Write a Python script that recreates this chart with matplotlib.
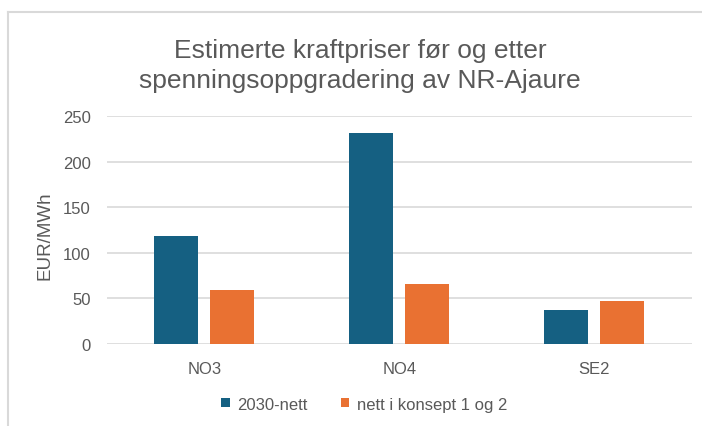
import numpy as np
import matplotlib.pyplot as plt
from matplotlib.lines import Line2D

# ------------------------------ DATA -----------------------------------------
areas = ['NO3', 'NO4', 'SE2']
price_2030 = [118, 231.5, 37.5]        # EUR/MWh, 2030-nett
price_konsept = [59, 66, 47]           # EUR/MWh, nett i konsept 1 og 2
series_labels = ['2030-nett', 'nett i konsept 1 og 2']

# ------------------------------ STYLE ----------------------------------------
plt.rcParams['font.family'] = ['Liberation Sans', 'DejaVu Sans']
grey = '#595959'
blue = '#156082'
orange = '#E97132'

# ------------------------------ PLOTTING -------------------------------------
fig = plt.figure(figsize=(7.02, 4.27), dpi=100)
ax = fig.add_axes([0.152, 0.192, 0.8333, 0.534])

x = np.arange(len(areas))
w = 0.223
off = 0.1435
ax.bar(x - off, price_2030, w, color=blue, label=series_labels[0], zorder=3)
ax.bar(x + off, price_konsept, w, color=orange, label=series_labels[1], zorder=3)

ax.set_xlim(-0.5, 2.5)
ax.set_ylim(0, 250)
ax.set_yticks(np.arange(0, 251, 50))
ax.set_xticks(x)
ax.set_xticklabels(areas)
ax.grid(axis='y', color='#D9D9D9', linewidth=1.2, zorder=0)
for s in ax.spines.values():
    s.set_visible(False)
ax.tick_params(length=0, colors=grey, labelsize=12)
ax.tick_params(axis='y', pad=11.5)
ax.tick_params(axis='x', pad=12)

fig.text(0.064, 0.447, 'EUR/MWh', rotation=90, ha='center', va='center',
         color=grey, fontsize=13.5)
fig.text(0.513, 0.845, 'Estimerte kraftpriser før og etter\nspenningsoppgradering av NR-Ajaure',
         ha='center', va='center', color=grey, fontsize=19, linespacing=1.29)

fig.legend(loc='center', bbox_to_anchor=(0.519, 0.0515), ncol=2, frameon=False,
           fontsize=12, labelcolor=grey, handlelength=0.5, handleheight=0.5,
           handletextpad=0.45, columnspacing=2.0)

# chart border (top and left only visible)
fig.add_artist(Line2D([0.011, 0.011], [0.002, 0.970], color='#D9D9D9', lw=1.5,
                      transform=fig.transFigure))
fig.add_artist(Line2D([0.011, 0.999], [0.970, 0.970], color='#D9D9D9', lw=1.5,
                      transform=fig.transFigure))

fig.savefig('out.png', dpi=100)
